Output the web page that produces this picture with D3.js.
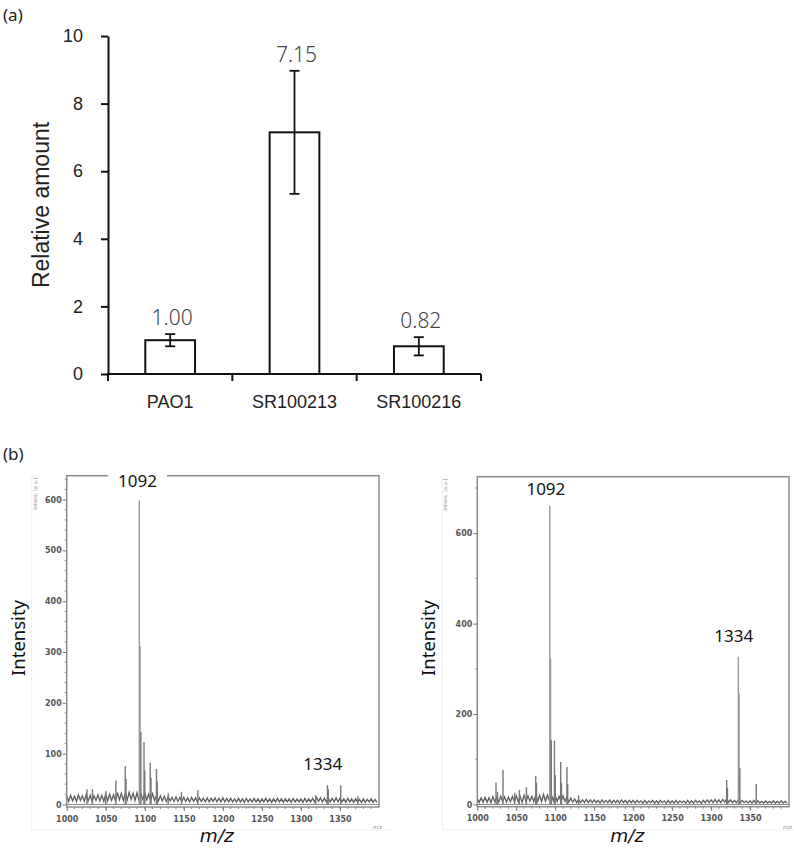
<!DOCTYPE html>
<html>
<head>
<meta charset="utf-8">
<script src="https://cdn.jsdelivr.net/npm/d3@7"></script>
<style>
  body { margin: 0; background: #fff; }
</style>
</head>
<body>
<div id="chart"></div>
<script>
// (a) relative amount per strain
const strains = ['PAO1', 'SR100213', 'SR100216'];
const relAmount = [1.00, 7.15, 0.82];
const relError = [0.18, 1.82, 0.27];
const amountTicks = [0, 2, 4, 6, 8, 10];

// (b) MALDI spectra, m/z axis
const mzTicks = [1000, 1050, 1100, 1150, 1200, 1250, 1300, 1350];
const noiseStart = 1000;
const noiseStep = 2.5;

// left spectrum: baseline noise (one value every 2.5 m/z) and peaks [m/z, intensity]
const noiseLeft = [
  17, 6, 18, 7, 16, 6, 19, 8, 17, 6, 20, 7, 18, 6, 17, 8, 19, 7, 18, 6,
  21, 7, 20, 8, 19, 7, 23, 9, 22, 8, 21, 9, 24, 10, 22, 8, 23, 9, 21, 10,
  22, 9, 20, 8, 21, 8, 18, 7, 17, 7, 16, 6, 15, 7, 14, 6, 15, 6, 14, 6,
  14, 6, 13, 5, 14, 6, 13, 5, 13, 6, 12, 5, 13, 5, 12, 6, 13, 5, 12, 5,
  13, 5, 12, 5, 12, 5, 11, 5, 12, 5, 11, 4, 12, 5, 11, 5, 12, 5, 11, 4,
  11, 5, 12, 5, 11, 4, 11, 5, 12, 5, 11, 4, 11, 5, 11, 4, 12, 5, 11, 5,
  11, 4, 12, 5, 11, 5, 12, 5, 14, 6, 13, 5, 12, 5, 13, 5, 12, 5, 13, 5,
  12, 5, 11, 4, 12, 5, 11, 4, 11, 5, 10, 4, 11, 4, 10, 5, 11, 4, 10, 4
];
const peaksLeft = [
  [1026, 30], [1033, 30], [1050, 26], [1063, 47], [1075, 75], [1076, 50],
  [1093, 598], [1094, 311], [1095, 143], [1099, 123], [1100, 67],
  [1107, 82], [1108, 52], [1115, 70], [1116, 45], [1130, 22], [1147, 25],
  [1168, 28], [1319, 18], [1334, 38], [1335, 30], [1351, 38], [1373, 16]
];
const intensTicksLeft = [0, 100, 200, 300, 400, 500, 600];
const peakLabelsLeft = [['1092', 1090.6, 625], ['1334', 1328, 68]];

// right spectrum
const noiseRight = [
  14, 4, 15, 5, 16, 5, 15, 4, 17, 6, 16, 5, 18, 6, 17, 5, 16, 6, 18, 6,
  19, 6, 18, 5, 20, 6, 19, 7, 18, 6, 21, 7, 20, 6, 22, 7, 21, 8, 22, 8,
  20, 7, 18, 6, 19, 7, 16, 5, 14, 5, 12, 4, 11, 4, 10, 4, 11, 4, 10, 4,
  10, 4, 9, 3, 10, 4, 9, 4, 10, 3, 9, 4, 9, 3, 10, 4, 9, 3, 9, 4,
  9, 3, 9, 4, 8, 3, 9, 3, 8, 4, 9, 3, 8, 3, 9, 4, 8, 3, 9, 3,
  8, 3, 9, 3, 8, 4, 8, 3, 9, 3, 8, 3, 9, 4, 8, 3, 9, 4, 10, 4,
  10, 4, 11, 4, 10, 4, 11, 5, 12, 5, 10, 4, 9, 4, 10, 4, 9, 4, 8, 3,
  8, 3, 9, 3, 8, 3, 7, 3, 8, 3, 7, 3, 8, 3, 7, 3, 8, 3, 7, 3
];
const peaksRight = [
  [1024, 48], [1026, 28], [1033, 76], [1048, 26], [1054, 32], [1063, 38],
  [1075, 63], [1076, 48], [1093, 661], [1094, 323], [1095, 142],
  [1099, 141], [1100, 65], [1107, 94], [1108, 48], [1115, 83], [1116, 45],
  [1130, 20], [1320, 54], [1321, 37], [1335, 327], [1336, 246], [1337, 80],
  [1358, 45]
];
const intensTicksRight = [0, 200, 400, 600];
const peakLabelsRight = [['1092', 1088, 684], ['1334', 1329, 359]];

const svg = d3.select('#chart')
  .append('svg')
  .attr('width', 794)
  .attr('height', 849)
  .style('display', 'block');

// ---------- panel (a) ----------
function drawBars() {
  const g = svg.append('g');

  const x = d3.scaleBand()
    .domain(strains)
    .range([108, 481])
    .paddingInner(0.6)
    .paddingOuter(0.3);

  const y = d3.scaleLinear().domain([0, 10]).range([374, 36]);

  g.append('text')
    .attr('x', 3).attr('y', 21)
    .style('font-family', '"Noto Sans", sans-serif')
    .style('font-size', '17px')
    .style('fill', '#222')
    .text('(a)');

  // y axis
  const yAxis = g.append('g')
    .attr('transform', 'translate(108,0)')
    .call(d3.axisLeft(y).tickValues(amountTicks).tickSize(7).tickPadding(18).tickSizeOuter(0));
  yAxis.select('.domain').attr('stroke', '#111').attr('stroke-width', 2);
  yAxis.selectAll('.tick line').attr('stroke', '#111').attr('stroke-width', 2);
  yAxis.selectAll('.tick text')
    .style('font-family', '"Liberation Sans", Arial, sans-serif')
    .style('font-size', '18px')
    .style('fill', '#222');

  // x axis line with ticks at category boundaries
  g.append('line')
    .attr('x1', 107).attr('x2', 481)
    .attr('y1', y(0)).attr('y2', y(0))
    .attr('stroke', '#111').attr('stroke-width', 2);

  const bounds = d3.range(strains.length + 1).map(i => x.range()[0] + i * x.step());
  g.selectAll('.xtick')
    .data(bounds)
    .enter()
    .append('line')
    .attr('x1', d => d).attr('x2', d => d)
    .attr('y1', y(0)).attr('y2', y(0) + 7)
    .attr('stroke', '#111').attr('stroke-width', 2);

  g.selectAll('.xlab')
    .data(strains)
    .enter()
    .append('text')
    .attr('x', d => x(d) + x.bandwidth() / 2)
    .attr('y', 408)
    .attr('text-anchor', 'middle')
    .style('font-family', '"Liberation Sans", Arial, sans-serif')
    .style('font-size', '18px')
    .style('fill', '#222')
    .text(d => d);

  g.append('text')
    .attr('transform', 'translate(49,205) rotate(-90)')
    .attr('text-anchor', 'middle')
    .style('font-family', '"Liberation Sans", Arial, sans-serif')
    .style('font-size', '23px')
    .style('fill', '#222')
    .text('Relative amount');

  // bars
  g.selectAll('.bar')
    .data(strains)
    .enter()
    .append('rect')
    .attr('x', d => x(d))
    .attr('width', x.bandwidth())
    .attr('y', (d, i) => y(relAmount[i]))
    .attr('height', (d, i) => y(0) - y(relAmount[i]))
    .attr('fill', '#fff')
    .attr('stroke', '#111')
    .attr('stroke-width', 2);

  // error bars
  strains.forEach((s, i) => {
    const cx = x(s) + x.bandwidth() / 2;
    const top = y(relAmount[i] + relError[i]);
    const bot = y(relAmount[i] - relError[i]);
    g.append('line').attr('x1', cx).attr('x2', cx).attr('y1', top).attr('y2', bot)
      .attr('stroke', '#111').attr('stroke-width', 1.8);
    [top, bot].forEach(yy => {
      g.append('line').attr('x1', cx - 5).attr('x2', cx + 5).attr('y1', yy).attr('y2', yy)
        .attr('stroke', '#111').attr('stroke-width', 1.8);
    });
    g.append('text')
      .attr('x', cx + 2)
      .attr('y', top - 9)
      .attr('text-anchor', 'middle')
      .style('font-family', '"Noto Sans", sans-serif')
      .style('font-weight', 300)
      .style('font-size', '21px')
      .style('fill', '#444')
      .text(relAmount[i].toFixed(2));
  });
}

// ---------- panel (b) ----------
function drawSpectrum(cfg) {
  const g = svg.append('g');

  const x = d3.scaleLinear().domain([1000, 1400]).range([cfg.left, cfg.right]);
  const y = d3.scaleLinear().domain([-5, cfg.yMax]).range([cfg.bottom, cfg.top]);

  // faint image border
  g.append('path')
    .attr('d', `M${cfg.left - 35},${cfg.top} V830 H${cfg.right + 12}`)
    .attr('fill', 'none')
    .attr('stroke', '#f0f0f0')
    .attr('stroke-width', 1);

  // noise trace
  const line = d3.line()
    .x((d, i) => x(noiseStart + i * noiseStep))
    .y(d => y(d));
  g.append('path')
    .datum(cfg.noise)
    .attr('d', line)
    .attr('fill', 'none')
    .attr('stroke', '#5e5e5e')
    .attr('stroke-width', 1.3);

  // peaks as sticks
  g.selectAll('.peak')
    .data(cfg.peaks)
    .enter()
    .append('line')
    .attr('x1', d => x(d[0])).attr('x2', d => x(d[0]))
    .attr('y1', y(0)).attr('y2', d => y(d[1]))
    .attr('stroke', d => d[1] > 200 ? '#9a9a9a' : '#777')
    .attr('stroke-width', 1.4);

  // zero line
  g.append('line')
    .attr('x1', cfg.left).attr('x2', cfg.right)
    .attr('y1', y(0)).attr('y2', y(0))
    .attr('stroke', '#888').attr('stroke-width', 1);

  // frame
  g.append('rect')
    .attr('x', cfg.left).attr('y', cfg.top)
    .attr('width', cfg.right - cfg.left)
    .attr('height', cfg.bottom - cfg.top)
    .attr('fill', 'none')
    .attr('stroke', '#8c8c8c')
    .attr('stroke-width', 1.5);

  // x axis
  const xAxis = g.append('g')
    .attr('transform', `translate(0,${cfg.bottom})`)
    .call(d3.axisBottom(x).tickValues(mzTicks).tickSize(4).tickPadding(5).tickFormat(d3.format('d')));
  xAxis.select('.domain').remove();
  xAxis.selectAll('.tick line').attr('stroke', '#777');
  xAxis.selectAll('.tick text')
    .style('font-family', '"DejaVu Sans", Verdana, sans-serif')
    .style('font-weight', 'bold')
    .style('font-size', '8px')
    .style('fill', '#555');
  g.selectAll('.xminor')
    .data(d3.range(1010, 1400, 10))
    .enter()
    .append('line')
    .attr('x1', d => x(d)).attr('x2', d => x(d))
    .attr('y1', cfg.bottom).attr('y2', cfg.bottom + 2)
    .attr('stroke', '#888');

  // y axis
  const yAxis = g.append('g')
    .attr('transform', `translate(${cfg.left},0)`)
    .call(d3.axisLeft(y).tickValues(cfg.yTicks).tickSize(4).tickPadding(1));
  yAxis.select('.domain').remove();
  yAxis.selectAll('.tick line').attr('stroke', '#777');
  yAxis.selectAll('.tick text')
    .style('font-family', '"DejaVu Sans", Verdana, sans-serif')
    .style('font-weight', 'bold')
    .style('font-size', '8px')
    .style('fill', '#555');
  g.selectAll('.yminor')
    .data(cfg.yMinor)
    .enter()
    .append('line')
    .attr('x1', cfg.left - 2).attr('x2', cfg.left)
    .attr('y1', d => y(d)).attr('y2', d => y(d))
    .attr('stroke', '#888');

  // tiny instrument labels
  g.append('text')
    .attr('transform', `translate(${cfg.left - 30},${cfg.top + 2}) rotate(-90)`)
    .attr('text-anchor', 'end')
    .style('font-family', '"DejaVu Sans", sans-serif')
    .style('font-size', '5px')
    .style('fill', '#888')
    .text('Intens. [a.u.]');
  g.append('text')
    .attr('x', cfg.right - 6).attr('y', 829)
    .style('font-family', '"DejaVu Sans", sans-serif')
    .style('font-size', '5px')
    .style('fill', '#888')
    .text('m/z');

  // axis titles
  g.append('text')
    .attr('x', (cfg.left + cfg.right) / 2 - 6)
    .attr('y', 842)
    .attr('text-anchor', 'middle')
    .style('font-family', '"DejaVu Sans", Verdana, sans-serif')
    .style('font-style', 'italic')
    .style('font-size', '18.5px')
    .style('fill', '#111')
    .text('m/z');
  g.append('text')
    .attr('transform', `translate(${cfg.left - 42},638) rotate(-90)`)
    .attr('text-anchor', 'middle')
    .style('font-family', '"Noto Sans", sans-serif')
    .style('font-size', '18.5px')
    .style('fill', '#111')
    .text('Intensity');

  // peak labels
  cfg.labels.forEach((lab, i) => {
    const t = g.append('text')
      .attr('x', x(lab[1]))
      .attr('y', y(lab[2]))
      .attr('text-anchor', 'middle')
      .style('font-family', '"Noto Sans", sans-serif')
      .style('font-size', '17px')
      .style('fill', '#111')
      .text(lab[0]);
    if (cfg.boxFirst && i === 0) {
      const b = t.node().getBBox();
      g.insert('rect', function () { return t.node(); })
        .attr('x', b.x - 10).attr('y', b.y - 2)
        .attr('width', b.width + 20).attr('height', b.height + 2)
        .attr('fill', '#fff');
    }
  });
}

drawBars();

svg.append('text')
  .attr('x', 3).attr('y', 460)
  .style('font-family', '"Noto Sans", sans-serif')
  .style('font-size', '17px')
  .style('fill', '#222')
  .text('(b)');

drawSpectrum({
  left: 66.7, right: 379, top: 475.7, bottom: 807, yMax: 647,
  noise: noiseLeft, peaks: peaksLeft,
  yTicks: intensTicksLeft, yMinor: d3.range(20, 660, 20).filter(v => v % 100 !== 0),
  labels: peakLabelsLeft, boxFirst: true
});

drawSpectrum({
  left: 477.3, right: 789, top: 476.7, bottom: 806.7, yMax: 725,
  noise: noiseRight, peaks: peaksRight,
  yTicks: intensTicksRight, yMinor: [100, 300, 500, 700],
  labels: peakLabelsRight, boxFirst: false
});
</script>
</body>
</html>
